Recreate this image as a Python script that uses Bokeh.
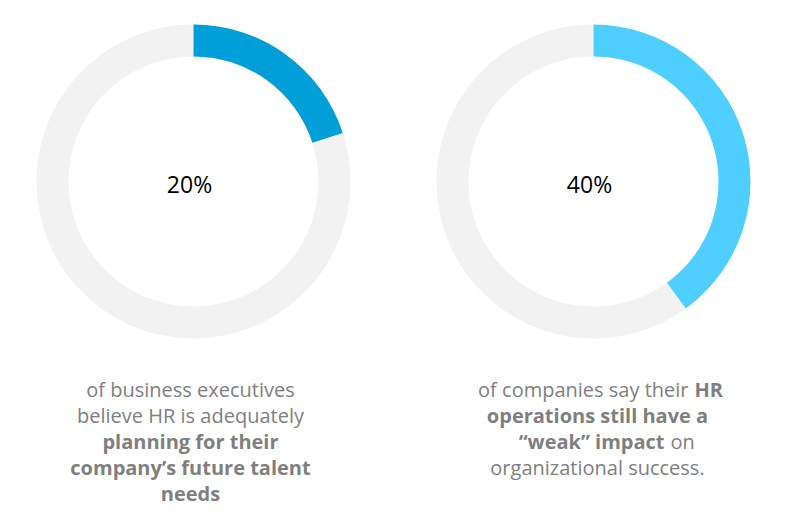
from math import pi
from bokeh.plotting import figure
from bokeh.models import Range1d
from bokeh.core.properties import value
from bokeh.embed import file_html
from bokeh.resources import INLINE

# ---- data ----
percent_values = [20, 40]
percent_labels = ["20%", "40%"]
arc_colors = ["#009FDA", "#4FCFFF"]
track_color = "#F2F2F2"

# caption lines: list of segments (text, bold)
caption_left = [
    [("of business executives", False)],
    [("believe HR is adequately", False)],
    [("planning for their", True)],
    [("company\u2019s future talent", True)],
    [("needs", True)],
]
caption_right = [
    [("of companies say their", False), ("HR", True)],
    [("operations still have a", True)],
    [("\u201cweak\u201d impact", True), ("on", False)],
    [("organizational success.", False)],
]

# ---- layout ----
W, H = 785, 520
FONT = "Open Sans"
centers_x = [193, 593]
center_y = 181
r_out, r_in = 157, 125
caption_cx = [190, 597]
line_y = [389, 415, 441, 467, 493]
# split positions for mixed-style lines (right caption)
split_x = {0: 691, 2: 667}

p = figure(width=W, height=H, output_backend="svg", toolbar_location=None,
           x_range=Range1d(0, W), y_range=Range1d(0, H), min_border=0)
p.axis.visible = False
p.grid.visible = False
p.outline_line_color = None
p.background_fill_color = "white"
p.border_fill_color = "white"

def Y(y):
    return H - y

for i, v in enumerate(percent_values):
    frac = v / 100.0
    start = pi / 2 - frac * 2 * pi
    end = pi / 2
    # track (remaining part)
    p.annular_wedge(x=centers_x[i], y=Y(center_y), inner_radius=r_in, outer_radius=r_out,
                    start_angle=end, end_angle=start + 2 * pi, direction="anticlock",
                    fill_color=track_color, line_color=None)
    # value arc
    p.annular_wedge(x=centers_x[i], y=Y(center_y), inner_radius=r_in, outer_radius=r_out,
                    start_angle=start, end_angle=end, direction="anticlock",
                    fill_color=arc_colors[i], line_color=None)
    p.text(x=[centers_x[i] - 4], y=[Y(center_y + 2)], text=[percent_labels[i]],
           text_font=value(FONT), text_font_size="23px", text_color="#000000",
           text_align="center", text_baseline="middle")

CAP_COLOR = "#7F7F7F"
CAP_SIZE = "20px"

def draw_caption(lines, cx, splits):
    for j, segs in enumerate(lines):
        y = Y(line_y[j])
        if len(segs) == 1:
            t, b = segs[0]
            p.text(x=[cx], y=[y], text=[t], text_font=value(FONT), text_font_size=CAP_SIZE,
                   text_font_style="bold" if b else "normal", text_color=CAP_COLOR,
                   text_align="center", text_baseline="middle")
        else:
            sx = splits[j]
            (t1, b1), (t2, b2) = segs
            p.text(x=[sx - 3], y=[y], text=[t1], text_font=value(FONT), text_font_size=CAP_SIZE,
                   text_font_style="bold" if b1 else "normal", text_color=CAP_COLOR,
                   text_align="right", text_baseline="middle")
            p.text(x=[sx + 3], y=[y], text=[t2], text_font=value(FONT), text_font_size=CAP_SIZE,
                   text_font_style="bold" if b2 else "normal", text_color=CAP_COLOR,
                   text_align="left", text_baseline="middle")

draw_caption(caption_left, caption_cx[0], {})
draw_caption(caption_right, caption_cx[1], split_x)

open("out.html", "w").write(file_html(p, INLINE))
